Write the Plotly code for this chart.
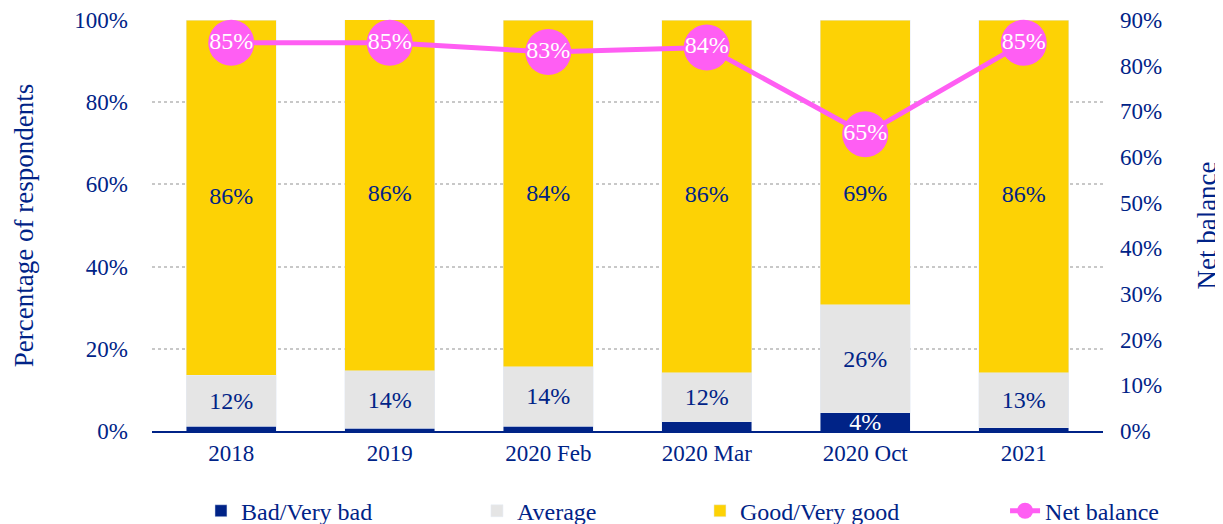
import plotly.graph_objects as go

categories = ["2018", "2019", "2020 Feb", "2020 Mar", "2020 Oct", "2021"]
bad = [1.2, 0.7, 1.2, 2.2, 4.4, 0.8]
average = [12.4, 13.9, 14.4, 12.0, 26.3, 13.4]
good = [86.4, 85.6, 84.4, 85.8, 69.3, 85.8]
net_balance = [85, 85, 83, 84, 65, 85]

NAVY = "#002387"
GREY = "#E5E5E5"
GOLD = "#FDD205"
MAGENTA = "#FF5EF3"
FONT = "Liberation Serif, Times New Roman, serif"
LABEL_SIZE = 24

def labels(vals, minimum=3):
    return [f"{v:.0f}%" if v >= minimum else "" for v in vals]

# good-segment labels sit at the segment middle, but never above the band of the net-balance markers
good_label_y = [min(b + a + g / 2, 57.5) for b, a, g in zip(bad, average, good)]

fig = go.Figure()
fig.add_trace(go.Bar(x=categories, y=bad, name="Bad/Very bad", marker_color=NAVY,
                     legend="legend",
                     text=labels(bad), textposition="inside", insidetextanchor="middle",
                     constraintext="none",
                     textfont=dict(color="white", size=LABEL_SIZE, family=FONT)))
fig.add_trace(go.Bar(x=categories, y=average, name="Average", marker_color=GREY,
                     legend="legend2",
                     text=labels(average), textposition="inside", insidetextanchor="middle",
                     constraintext="none",
                     textfont=dict(color=NAVY, size=LABEL_SIZE, family=FONT)))
fig.add_trace(go.Bar(x=categories, y=good, name="Good/Very good", marker_color=GOLD,
                     legend="legend3", textposition="none"))
fig.add_trace(go.Scatter(x=categories, y=good_label_y, mode="text", showlegend=False,
                         text=labels(good), textposition="middle center", hoverinfo="skip",
                         textfont=dict(color=NAVY, size=LABEL_SIZE, family=FONT)))
fig.add_trace(go.Scatter(x=categories, y=net_balance, name="Net balance", yaxis="y2",
                         legend="legend4",
                         mode="lines+markers+text",
                         line=dict(color=MAGENTA, width=5),
                         marker=dict(color=MAGENTA, size=46),
                         text=[f"{v}%" for v in net_balance], textposition="middle center",
                         textfont=dict(color="white", size=LABEL_SIZE, family=FONT),
                         cliponaxis=False))

def legend_at(x):
    return dict(orientation="h", x=x, xanchor="left", y=-0.195, yanchor="middle",
                font=dict(size=24, family=FONT, color=NAVY), bgcolor="rgba(0,0,0,0)")

fig.update_layout(
    width=1215, height=516,
    barmode="stack", bargap=0.432,
    plot_bgcolor="white", paper_bgcolor="white",
    font=dict(family=FONT, color=NAVY, size=23),
    margin=dict(l=144, r=120, t=12, b=93, autoexpand=False),
    showlegend=True,
    legend=legend_at(0.0515),
    legend2=legend_at(0.3417),
    legend3=legend_at(0.5762),
    legend4=legend_at(0.8970),
    xaxis=dict(showline=True, linecolor=NAVY, linewidth=2, ticks="",
               tickfont=dict(size=23), showgrid=False, automargin=False),
    yaxis=dict(range=[0, 100], dtick=20, ticksuffix="%", showgrid=True,
               gridcolor="#C8C8C8", griddash="dot", gridwidth=1.5, zeroline=False,
               tickfont=dict(size=23), ticklabelstandoff=23, automargin=False,
               title=dict(text="Percentage of respondents", font=dict(size=27), standoff=32)),
    yaxis2=dict(range=[0, 90], dtick=10, ticksuffix="%", overlaying="y", side="right",
                showgrid=False, zeroline=False, tickfont=dict(size=23),
                ticklabelstandoff=16, automargin=False,
                title=dict(text="Net balance", font=dict(size=27), standoff=35)),
)

fig.write_html("out.html")
